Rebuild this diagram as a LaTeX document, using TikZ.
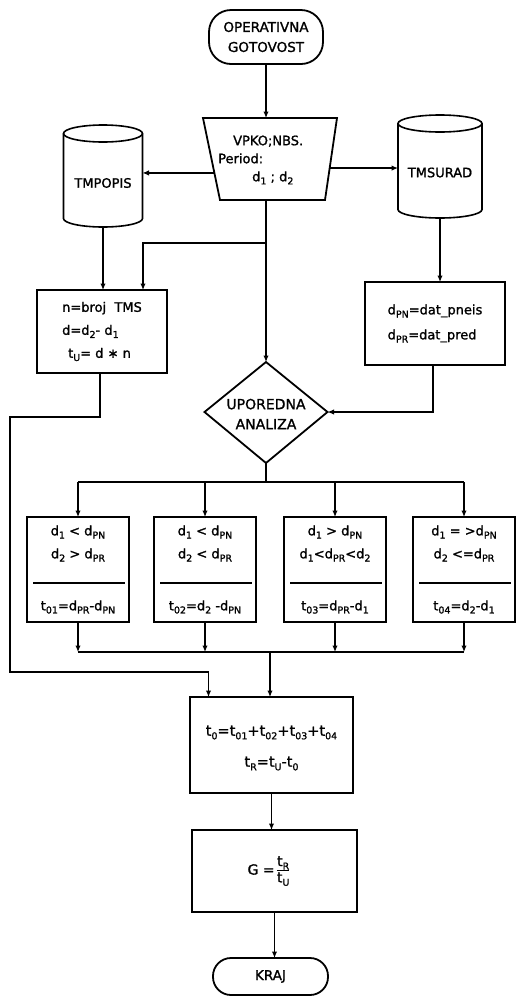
\documentclass[tikz,border=0pt]{standalone}
\usepackage{fontspec}
\setmainfont{DejaVu Sans}[FakeBold=1.3]
\usetikzlibrary{arrows.meta,calc}
\newcommand\dn[1]{\raisebox{-0.45ex}{\fontsize{9.5}{10}\selectfont #1}}
\begin{document}
\begin{tikzpicture}[x=1pt,y=1pt,
  box/.style={draw, line width=1.8pt, rectangle, inner sep=0pt, outer sep=0pt},
  arr/.style={line width=1.2pt, -{Latex[length=6.5pt,width=5.5pt]}},
  ln/.style={line width=1.2pt},
  cylline/.style={line width=1.6pt},
  sepl/.style={line width=1.4pt},
  cylbody/.style={rectangle, inner sep=0pt, outer sep=0pt},
  txt/.style={font=\fontsize{13}{23}\selectfont, inner sep=0pt, align=center},
  every node/.style={font=\fontsize{13}{22}\selectfont}]
\fill[white] (0,0) rectangle (521,-997);
\useasboundingbox (0,0) rectangle (521,-997);

% start terminal
\node[box, rounded corners=22pt, minimum width=114, minimum height=54, align=center,
  font=\fontsize{13.5}{20}\selectfont] (start) at (266,-37) {OPERATIVNA\\GOTOVOST};

% input (trapezoid)
\coordinate (tl) at (203,-118); \coordinate (tr) at (337,-118);
\coordinate (brr) at (325,-200); \coordinate (bl) at (220,-200);
\draw[line width=1.8pt] (tl) -- (tr) -- (brr) -- (bl) -- cycle;
\node[align=left, anchor=west, inner sep=0pt, font=\fontsize{13}{18}\selectfont] (inp) at (218,-160)
  {\hspace{15pt}VPKO;NBS.\\Period:\\\hspace{34pt}d\dn1 ; d\dn2};
\draw[arr] (start.south) -- (start.south |- tl);

% cylinders
\node[cylbody, minimum width=79, minimum height=102, label={[yshift=-7pt]center:TMPOPIS}] (tp) at (103,-176) {};
\draw[cylline] ([yshift=-8.5pt]tp.north west) -- ([yshift=8.5pt]tp.south west)
  arc[start angle=180,end angle=360,x radius=39.5pt,y radius=8.5pt]
  -- ([yshift=-8.5pt]tp.north east)
  arc[start angle=0,end angle=180,x radius=39.5pt,y radius=8.5pt] -- cycle;
\draw[cylline] ([yshift=-8.5pt]tp.north west) arc[start angle=180,end angle=360,x radius=39.5pt,y radius=8.5pt];

\node[cylbody, minimum width=84, minimum height=103, label={[yshift=-6pt]center:TMSURAD}] (ts) at (440,-166.5) {};
\draw[cylline] ([yshift=-8.5pt]ts.north west) -- ([yshift=8.5pt]ts.south west)
  arc[start angle=180,end angle=360,x radius=42pt,y radius=8.5pt]
  -- ([yshift=-8.5pt]ts.north east)
  arc[start angle=0,end angle=180,x radius=42pt,y radius=8.5pt] -- cycle;
\draw[cylline] ([yshift=-8.5pt]ts.north west) arc[start angle=180,end angle=360,x radius=42pt,y radius=8.5pt];

\coordinate (lp) at ($(tl)!0.67!(bl)$);
\coordinate (rp) at ($(tr)!0.61!(brr)$);
\draw[arr] (lp) -- (lp -| tp.east);
\draw[arr] (rp) -- (rp -| ts.west);

% box 1
\node[box, minimum width=130, minimum height=83] (b1) at (102,-331.5) {};
\node[align=left, inner sep=0pt, font=\fontsize{13}{23}\selectfont] (b1t) at (b1.center)
  {n=broj\ \ TMS\\d=d\dn2- d\dn1\\\hspace{6pt}t\dn U= d ∗ n};

% box right
\node[box, minimum width=140, minimum height=83] (bR) at (435,-323.5) {};
\node[align=left, inner sep=0pt, font=\fontsize{13}{25}\selectfont] (bRt) at (bR.center)
  {d\dn{PN}=dat\_pneis\\d\dn{PR}=dat\_pred};

% diamond
\coordinate (dt) at (266,-362); \coordinate (dr) at (327.5,-412);
\coordinate (db) at (266,-463); \coordinate (dl) at (204.5,-412);
\draw[line width=1.8pt] (dt) -- (dr) -- (db) -- (dl) -- cycle;
\node[align=center, inner sep=0pt, font=\fontsize{14}{20}\selectfont] (dia) at (266,-414) {UPOREDNA\\ANALIZA};

% main connectors
\coordinate (ib) at (266,-200);
\coordinate (jn) at (266,-243);
\draw[arr] (ib) -- (dt);
\draw[arr] (jn) -| ([xshift=41pt]b1.north);
\draw[arr] (tp.south) -- (tp.south |- b1.north);
\draw[arr] (ts.south) -- (ts.south |- bR.north);
\draw[arr] ([xshift=-2pt]bR.south) |- (dr);

% four condition boxes
\node[box, minimum width=102, minimum height=105] (bA) at (78,-569.5) {};
\node[box, minimum width=102, minimum height=105] (bB) at (205,-569.5) {};
\node[box, minimum width=102, minimum height=105] (bC) at (335,-569.5) {};
\node[box, minimum width=102, minimum height=105] (bD) at (464,-569.5) {};
\foreach \b in {bA,bB,bC,bD}{
  \draw[sepl] ([xshift=6pt,yshift=-66pt]\b.north west) -- ([xshift=-4pt,yshift=-66pt]\b.north east);
}
\node[txt] (bAu) at ([yshift=-26.5pt]bA.north) {d\dn1 < d\dn{PN}\\d\dn2 > d\dn{PR}};
\node[txt] (bAl) at ([yshift=15pt]bA.south) {t\dn{01}=d\dn{PR}-d\dn{PN}};
\node[txt] (bBu) at ([yshift=-26.5pt]bB.north) {d\dn1 < d\dn{PN}\\d\dn2 < d\dn{PR}};
\node[txt] (bBl) at ([yshift=15pt]bB.south) {t\dn{02}=d\dn2 -d\dn{PN}};
\node[txt] (bCu) at ([yshift=-26.5pt]bC.north) {d\dn1 > d\dn{PN}\\d\dn1<d\dn{PR}<d\dn2};
\node[txt] (bCl) at ([yshift=15pt]bC.south) {t\dn{03}=d\dn{PR}-d\dn1};
\node[txt] (bDu) at ([yshift=-26.5pt]bD.north) {d\dn1 = >d\dn{PN}\\d\dn2 <=d\dn{PR}};
\node[txt] (bDl) at ([yshift=15pt]bD.south) {t\dn{04}=d\dn2-d\dn1};

\coordinate (sp) at (266,-482);
\draw[ln] (db) -- (sp);
\draw[ln] (bA.north |- sp) -- (bD.north |- sp);
\foreach \b in {bA,bB,bC,bD}{ \draw[arr] (\b.north |- sp) -- (\b.north); }

% final boxes
\node[box, minimum width=163, minimum height=96] (f1) at (271.5,-745) {};
\node[align=center, inner sep=0pt, font=\fontsize{14.5}{31}\selectfont] (f1t) at ([yshift=-3pt]f1.center)
  {t\dn0=t\dn{01}+t\dn{02}+t\dn{03}+t\dn{04}\\t\dn R=t\dn U-t\dn0};
\node[box, minimum width=165, minimum height=82] (f2) at (274.5,-871) {};
\node[inner sep=0pt, font=\fontsize{14}{16}\selectfont] (f2t) at ([xshift=-6pt]f2.center)
  {G =\,\setlength{\arrayrulewidth}{1.2pt}\begin{tabular}{@{}c@{}}t\dn R\\[-1pt]\hline t\dn U\end{tabular}};
\node[box, rounded corners=18pt, minimum width=115, minimum height=37, font=\fontsize{13.5}{16}\selectfont] (kraj) at (270.5,-976.5) {KRAJ};

\coordinate (mg) at (270,-652);
\foreach \b in {bA,bB,bC,bD}{ \draw[arr] (\b.south) -- (\b.south |- mg); }
\draw[ln] (bA.south |- mg) -- (bD.south |- mg);
\draw[arr] (mg) -- (mg |- f1.north);

% tU bypass line
\coordinate (lb1) at (10,-417);
\coordinate (lb2) at (10,-672);
\draw[arr] ([xshift=-2pt]b1.south) |- (lb1) -- (lb2) -| ([xshift=-63pt]f1.north);

\draw[arr] (f1.south) -- (f1.south |- f2.north);
\draw[arr] (f2.south) -- (f2.south |- kraj.north);
\end{tikzpicture}
\end{document}
